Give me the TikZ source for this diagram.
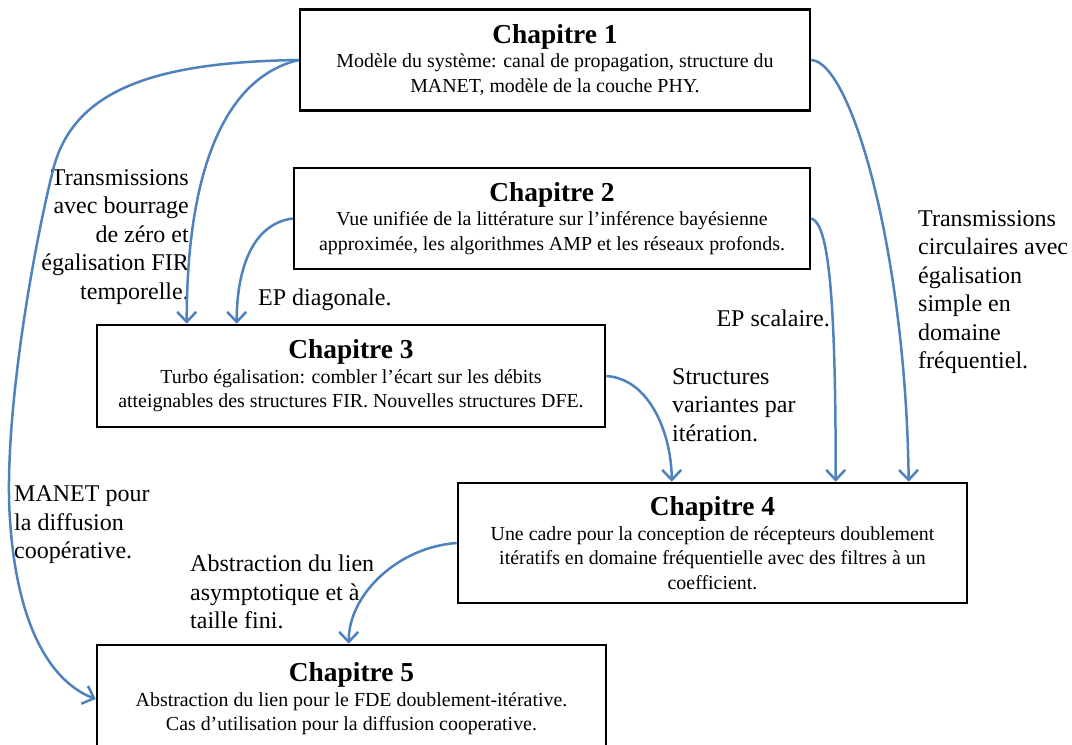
\documentclass[tikz,border=0pt]{standalone}
\usepackage{fontspec}
\setmainfont{Liberation Serif}
\usetikzlibrary{arrows.meta}
\definecolor{linkblue}{RGB}{79,129,189}

\tikzset{
  chapbox/.style={draw, line width=2.6pt, align=center, inner sep=0pt,
    minimum width=510pt, minimum height=101pt,
    font=\fontsize{19.9}{24.5}\selectfont},
  note/.style={inner sep=0pt, font=\fontsize{24}{28.5}\selectfont},
  link/.style={->, draw=linkblue, line width=2.5pt,
    >={Straight Barb[length=10pt,width=19pt]}},
}
\newcommand{\chaptitle}[1]{{\fontsize{27.4}{27}\selectfont\bfseries #1}}

\begin{document}
\begin{tikzpicture}[x=1pt, y=-1pt]
  \useasboundingbox (0,0) rectangle (1072,745);
  \clip (0,0) rectangle (1072,745);

  % chapters
  \node[chapbox] (ch1) at (555,60) {\chaptitle{Chapitre 1}\\
    Modèle du système: canal de propagation, structure du\\
    MANET, modèle de la couche PHY.};
  \node[chapbox, minimum width=516pt] (ch2) at (552,218.5) {\chaptitle{Chapitre 2}\\
    Vue unifiée de la littérature sur l’inférence bayésienne\\
    approximée, les algorithmes AMP et les réseaux profonds.};
  \node[chapbox, minimum width=508pt, minimum height=102pt] (ch3) at (351,376) {\chaptitle{Chapitre 3}\\
    Turbo égalisation: combler l’écart sur les débits\\
    atteignables des structures FIR. Nouvelles structures DFE.};
  \node[chapbox, minimum width=509pt, minimum height=120pt] (ch4) at (712.5,543) {\chaptitle{Chapitre 4}\\
    Une cadre pour la conception de récepteurs doublement\\
    itératifs en domaine fréquentielle avec des filtres à un\\
    coefficient.};
  \node[chapbox, minimum width=509pt, minimum height=108pt] (ch5) at (351.5,699) {\chaptitle{Chapitre 5}\\
    Abstraction du lien pour le FDE doublement-itérative.\\
    Cas d’utilisation pour la diffusion cooperative.};

  % labels
  \node[note, anchor=east, align=right] (zeropad) at (189,237)
    {Transmissions\\avec bourrage\\de zéro et\\égalisation FIR\\temporelle.};
  \node[note, anchor=west, align=left] (manet) at (14,525)
    {MANET pour\\la diffusion\\coopérative.};
  \node[note, anchor=west] (epdiag) at (258,300) {EP diagonale.};
  \node[note, anchor=east] (epscal) at (830,318) {EP scalaire.};
  \node[note, anchor=west, align=left] (variant) at (672,405)
    {Structures\\variantes par\\itération.};
  \node[note, anchor=west, align=left] (circ) at (918,292)
    {Transmissions\\circulaires avec\\égalisation\\simple en\\domaine\\fréquentiel.};
  \node[note, anchor=west, align=left] (abstr) at (190,592)
    {Abstraction du lien\\asymptotique et à\\taille fini.};

  % links
  \draw[link] (ch1.west) .. controls +(-80,19) and +(0,-140) .. ([xshift=91pt]ch3.north west);
  \draw[link] (ch1.west) .. controls +(-145,2) and +(20,-80) .. (53,170)
    .. controls +(-20,80) and +(-7,-100) .. (10,520)
    .. controls +(8,120) and +(-37,-14) .. (ch5.west);
  \draw[link] (ch2.west) .. controls +(-40,5) and +(0,-55) .. ([xshift=141pt]ch3.north west);
  \draw[link] (ch2.east) .. controls +(18,5) and +(0,-180) .. ([xshift=379pt]ch4.north west);
  \draw[link] (ch1.east) .. controls +(40,2) and +(-3,-230) .. ([xshift=452pt]ch4.north west);
  \draw[link] (ch3.east) .. controls +(45,3) and +(0,-45) .. ([xshift=215pt]ch4.north west);
  \draw[link] (ch4.west) .. controls +(-58,4) and +(0,-50) .. ([xshift=253pt]ch5.north west);
\end{tikzpicture}
\end{document}
